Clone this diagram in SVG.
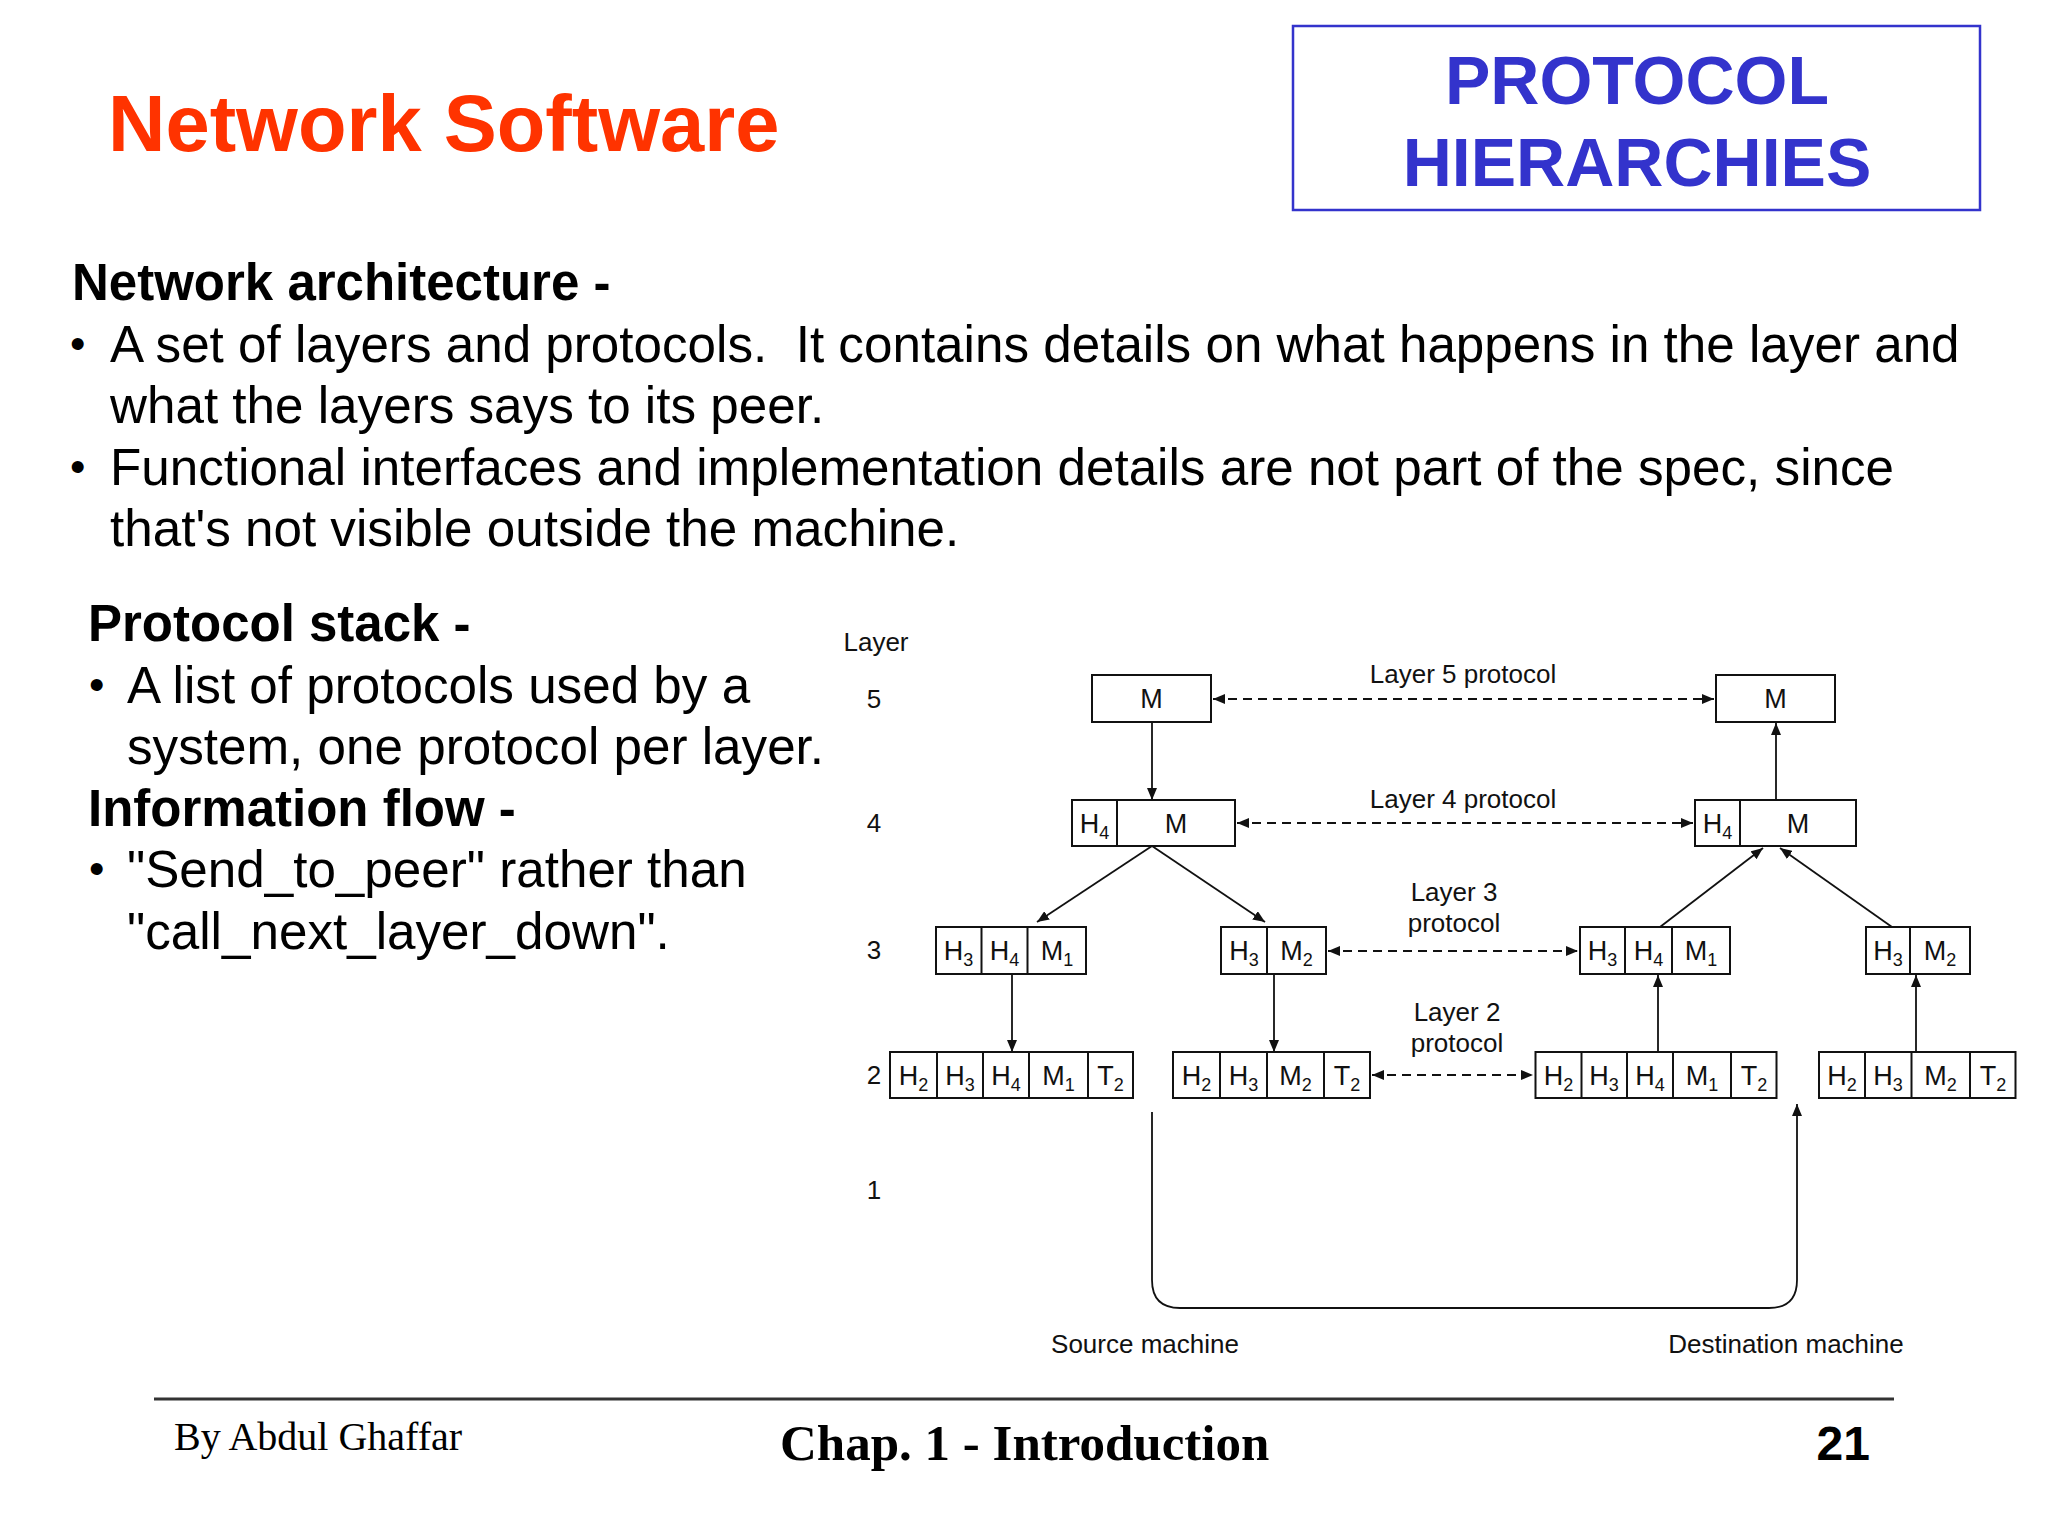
<svg xmlns="http://www.w3.org/2000/svg" width="2048" height="1536" viewBox="0 0 2048 1536">
<defs>
<style>
.bg{fill:#fff}
.title{font-family:"Liberation Sans",Arial,sans-serif;font-weight:bold;font-size:79.5px;fill:#FF3300}
.boxtitle{font-family:"Liberation Sans",Arial,sans-serif;font-weight:bold;font-size:68px;fill:#3333CC;text-anchor:middle}
.h{font-family:"Liberation Sans",Arial,sans-serif;font-weight:bold;font-size:51px;fill:#000}
.p{font-family:"Liberation Sans",Arial,sans-serif;font-size:51.2px;fill:#000}
.bul{font-family:"Liberation Sans",Arial,sans-serif;font-size:44px;fill:#000}
.cell{fill:#fff;stroke:#111;stroke-width:2}
.div{stroke:#111;stroke-width:2}
.t{font-family:"Liberation Sans",Arial,sans-serif;font-size:27px;fill:#111;text-anchor:middle}
.sub{font-size:18px}
.lbl{font-family:"Liberation Sans",Arial,sans-serif;font-size:26px;fill:#111;text-anchor:middle}
.lnum{font-family:"Liberation Sans",Arial,sans-serif;font-size:26px;fill:#111;text-anchor:middle}
.ar{fill:none;stroke:#111;stroke-width:1.8;marker-end:url(#ah)}
.dash{fill:none;stroke:#111;stroke-width:1.8;stroke-dasharray:9 6;marker-start:url(#ah);marker-end:url(#ah)}
.foot{font-family:"Liberation Serif","Times New Roman",serif;fill:#000}
</style>
<marker id="ah" viewBox="0 0 12 10" refX="12" refY="5" markerWidth="12" markerHeight="10" markerUnits="userSpaceOnUse" orient="auto-start-reverse">
<path d="M0,0 L12,5 L0,10 z" fill="#111"/>
</marker>
</defs>
<rect class="bg" x="0" y="0" width="2048" height="1536"/>

<g id="header">
<text class="title" x="108" y="151">Network Software</text>
<rect x="1293" y="26" width="687" height="184" fill="none" stroke="#3333CC" stroke-width="2.5"/>
<text class="boxtitle" x="1637" y="104">PROTOCOL</text>
<text class="boxtitle" x="1637" y="186">HIERARCHIES</text>
</g>

<g id="body-text">
<text class="h" x="72" y="300">Network architecture -</text>
<text class="bul" x="70" y="359">•</text>
<text class="p" x="110" y="362" xml:space="preserve">A set of layers and protocols.  It contains details on what happens in the layer and</text>
<text class="p" x="110" y="423">what the layers says to its peer.</text>
<text class="bul" x="70" y="482">•</text>
<text class="p" x="110" y="485">Functional interfaces and implementation details are not part of the spec, since</text>
<text class="p" x="110" y="546">that's not visible outside the machine.</text>

<text class="h" x="88" y="641">Protocol stack -</text>
<text class="bul" x="89" y="700">•</text>
<text class="p" x="127" y="703">A list of protocols used by a</text>
<text class="p" x="127" y="764">system, one protocol per layer.</text>
<text class="h" x="88" y="826">Information flow -</text>
<text class="bul" x="89" y="884">•</text>
<text class="p" x="127" y="887">"Send_to_peer" rather than</text>
<text class="p" x="127" y="949">"call_next_layer_down".</text>
</g>

<g id="layer-labels">
<text class="lbl" x="876" y="651">Layer</text>
<text class="lnum" x="874" y="708">5</text>
<text class="lnum" x="874" y="832">4</text>
<text class="lnum" x="874" y="959">3</text>
<text class="lnum" x="874" y="1084">2</text>
<text class="lnum" x="874" y="1199">1</text>
</g>

<g id="connectors">
<line class="dash" x1="1213" y1="699" x2="1714" y2="699"/>
<line class="dash" x1="1237" y1="823" x2="1693" y2="823"/>
<line class="dash" x1="1328" y1="951" x2="1578" y2="951"/>
<line class="dash" x1="1372" y1="1075" x2="1533" y2="1075"/>
<line class="ar" x1="1152" y1="722" x2="1152" y2="800"/>
<line class="ar" x1="1776" y1="800" x2="1776" y2="723"/>
<line class="ar" x1="1152" y1="846" x2="1037" y2="922"/>
<line class="ar" x1="1152" y1="846" x2="1265" y2="922"/>
<line class="ar" x1="1660" y1="927" x2="1763" y2="848"/>
<line class="ar" x1="1892" y1="927" x2="1780" y2="848"/>
<line class="ar" x1="1012" y1="974" x2="1012" y2="1052"/>
<line class="ar" x1="1274" y1="974" x2="1274" y2="1052"/>
<line class="ar" x1="1658" y1="1052" x2="1658" y2="975"/>
<line class="ar" x1="1916" y1="1052" x2="1916" y2="975"/>
<path class="ar" d="M1152,1112 V1280 Q1152,1308 1180,1308 H1769 Q1797,1308 1797,1280 V1104"/>
</g>

<g id="protocol-labels">
<text class="lbl" x="1463" y="683">Layer 5 protocol</text>
<text class="lbl" x="1463" y="808">Layer 4 protocol</text>
<text class="lbl" x="1454" y="901">Layer 3</text>
<text class="lbl" x="1454" y="932">protocol</text>
<text class="lbl" x="1457" y="1021">Layer 2</text>
<text class="lbl" x="1457" y="1052">protocol</text>
<text class="lbl" x="1145" y="1353">Source machine</text>
<text class="lbl" x="1786" y="1353">Destination machine</text>
</g>

<g id="src-l5">
<rect class="cell" x="1092" y="675" width="119" height="47"/>
<text class="t" x="1151.5" y="708">M</text>
</g>
<g id="dst-l5">
<rect class="cell" x="1716" y="675" width="119" height="47"/>
<text class="t" x="1775.5" y="708">M</text>
</g>

<g id="src-l4">
<rect class="cell" x="1072" y="800" width="163" height="46"/>
<line class="div" x1="1117" y1="800" x2="1117" y2="846"/>
<text class="t" x="1094.5" y="833">H<tspan class="sub" dy="6">4</tspan></text>
<text class="t" x="1176" y="833">M</text>
</g>
<g id="dst-l4">
<rect class="cell" x="1695" y="800" width="161" height="46"/>
<line class="div" x1="1740" y1="800" x2="1740" y2="846"/>
<text class="t" x="1717.5" y="833">H<tspan class="sub" dy="6">4</tspan></text>
<text class="t" x="1798" y="833">M</text>
</g>

<g id="src-l3-a">
<rect class="cell" x="936" y="927" width="150" height="47"/>
<line class="div" x1="981.5" y1="927" x2="981.5" y2="974"/>
<line class="div" x1="1027.5" y1="927" x2="1027.5" y2="974"/>
<text class="t" x="958.5" y="960">H<tspan class="sub" dy="6">3</tspan></text>
<text class="t" x="1004.5" y="960">H<tspan class="sub" dy="6">4</tspan></text>
<text class="t" x="1057" y="960">M<tspan class="sub" dy="6">1</tspan></text>
</g>
<g id="src-l3-b">
<rect class="cell" x="1221" y="927" width="105" height="47"/>
<line class="div" x1="1267" y1="927" x2="1267" y2="974"/>
<text class="t" x="1244" y="960">H<tspan class="sub" dy="6">3</tspan></text>
<text class="t" x="1296.5" y="960">M<tspan class="sub" dy="6">2</tspan></text>
</g>
<g id="dst-l3-a">
<rect class="cell" x="1580" y="927" width="150" height="47"/>
<line class="div" x1="1625" y1="927" x2="1625" y2="974"/>
<line class="div" x1="1672" y1="927" x2="1672" y2="974"/>
<text class="t" x="1602.5" y="960">H<tspan class="sub" dy="6">3</tspan></text>
<text class="t" x="1648.5" y="960">H<tspan class="sub" dy="6">4</tspan></text>
<text class="t" x="1701" y="960">M<tspan class="sub" dy="6">1</tspan></text>
</g>
<g id="dst-l3-b">
<rect class="cell" x="1866" y="927" width="104" height="47"/>
<line class="div" x1="1910" y1="927" x2="1910" y2="974"/>
<text class="t" x="1888" y="960">H<tspan class="sub" dy="6">3</tspan></text>
<text class="t" x="1940" y="960">M<tspan class="sub" dy="6">2</tspan></text>
</g>

<g id="src-l2-a">
<rect class="cell" x="890" y="1052" width="243" height="46"/>
<line class="div" x1="937" y1="1052" x2="937" y2="1098"/>
<line class="div" x1="983" y1="1052" x2="983" y2="1098"/>
<line class="div" x1="1029" y1="1052" x2="1029" y2="1098"/>
<line class="div" x1="1088" y1="1052" x2="1088" y2="1098"/>
<text class="t" x="913.5" y="1085">H<tspan class="sub" dy="6">2</tspan></text>
<text class="t" x="960" y="1085">H<tspan class="sub" dy="6">3</tspan></text>
<text class="t" x="1006" y="1085">H<tspan class="sub" dy="6">4</tspan></text>
<text class="t" x="1058.5" y="1085">M<tspan class="sub" dy="6">1</tspan></text>
<text class="t" x="1110.5" y="1085">T<tspan class="sub" dy="6">2</tspan></text>
</g>
<g id="src-l2-b">
<rect class="cell" x="1173" y="1052" width="197" height="46"/>
<line class="div" x1="1220" y1="1052" x2="1220" y2="1098"/>
<line class="div" x1="1267" y1="1052" x2="1267" y2="1098"/>
<line class="div" x1="1324" y1="1052" x2="1324" y2="1098"/>
<text class="t" x="1196.5" y="1085">H<tspan class="sub" dy="6">2</tspan></text>
<text class="t" x="1243.5" y="1085">H<tspan class="sub" dy="6">3</tspan></text>
<text class="t" x="1295.5" y="1085">M<tspan class="sub" dy="6">2</tspan></text>
<text class="t" x="1347" y="1085">T<tspan class="sub" dy="6">2</tspan></text>
</g>
<g id="dst-l2-a">
<rect class="cell" x="1535.5" y="1052" width="241" height="46"/>
<line class="div" x1="1581.5" y1="1052" x2="1581.5" y2="1098"/>
<line class="div" x1="1627" y1="1052" x2="1627" y2="1098"/>
<line class="div" x1="1673" y1="1052" x2="1673" y2="1098"/>
<line class="div" x1="1731" y1="1052" x2="1731" y2="1098"/>
<text class="t" x="1558.5" y="1085">H<tspan class="sub" dy="6">2</tspan></text>
<text class="t" x="1604" y="1085">H<tspan class="sub" dy="6">3</tspan></text>
<text class="t" x="1650" y="1085">H<tspan class="sub" dy="6">4</tspan></text>
<text class="t" x="1702" y="1085">M<tspan class="sub" dy="6">1</tspan></text>
<text class="t" x="1754" y="1085">T<tspan class="sub" dy="6">2</tspan></text>
</g>
<g id="dst-l2-b">
<rect class="cell" x="1819" y="1052" width="196.5" height="46"/>
<line class="div" x1="1865" y1="1052" x2="1865" y2="1098"/>
<line class="div" x1="1911.5" y1="1052" x2="1911.5" y2="1098"/>
<line class="div" x1="1970" y1="1052" x2="1970" y2="1098"/>
<text class="t" x="1842" y="1085">H<tspan class="sub" dy="6">2</tspan></text>
<text class="t" x="1888" y="1085">H<tspan class="sub" dy="6">3</tspan></text>
<text class="t" x="1940.5" y="1085">M<tspan class="sub" dy="6">2</tspan></text>
<text class="t" x="1993" y="1085">T<tspan class="sub" dy="6">2</tspan></text>
</g>

<g id="footer">
<line x1="154" y1="1399" x2="1894" y2="1399" stroke="#333" stroke-width="3"/>
<text class="foot" x="174" y="1450" font-size="40">By Abdul Ghaffar</text>
<text class="foot" x="780" y="1460" font-size="51" font-weight="bold">Chap. 1 - Introduction</text>
<text x="1870" y="1460" font-family="Liberation Sans,Arial,sans-serif" font-weight="bold" font-size="48" text-anchor="end">21</text>
</g>
</svg>
